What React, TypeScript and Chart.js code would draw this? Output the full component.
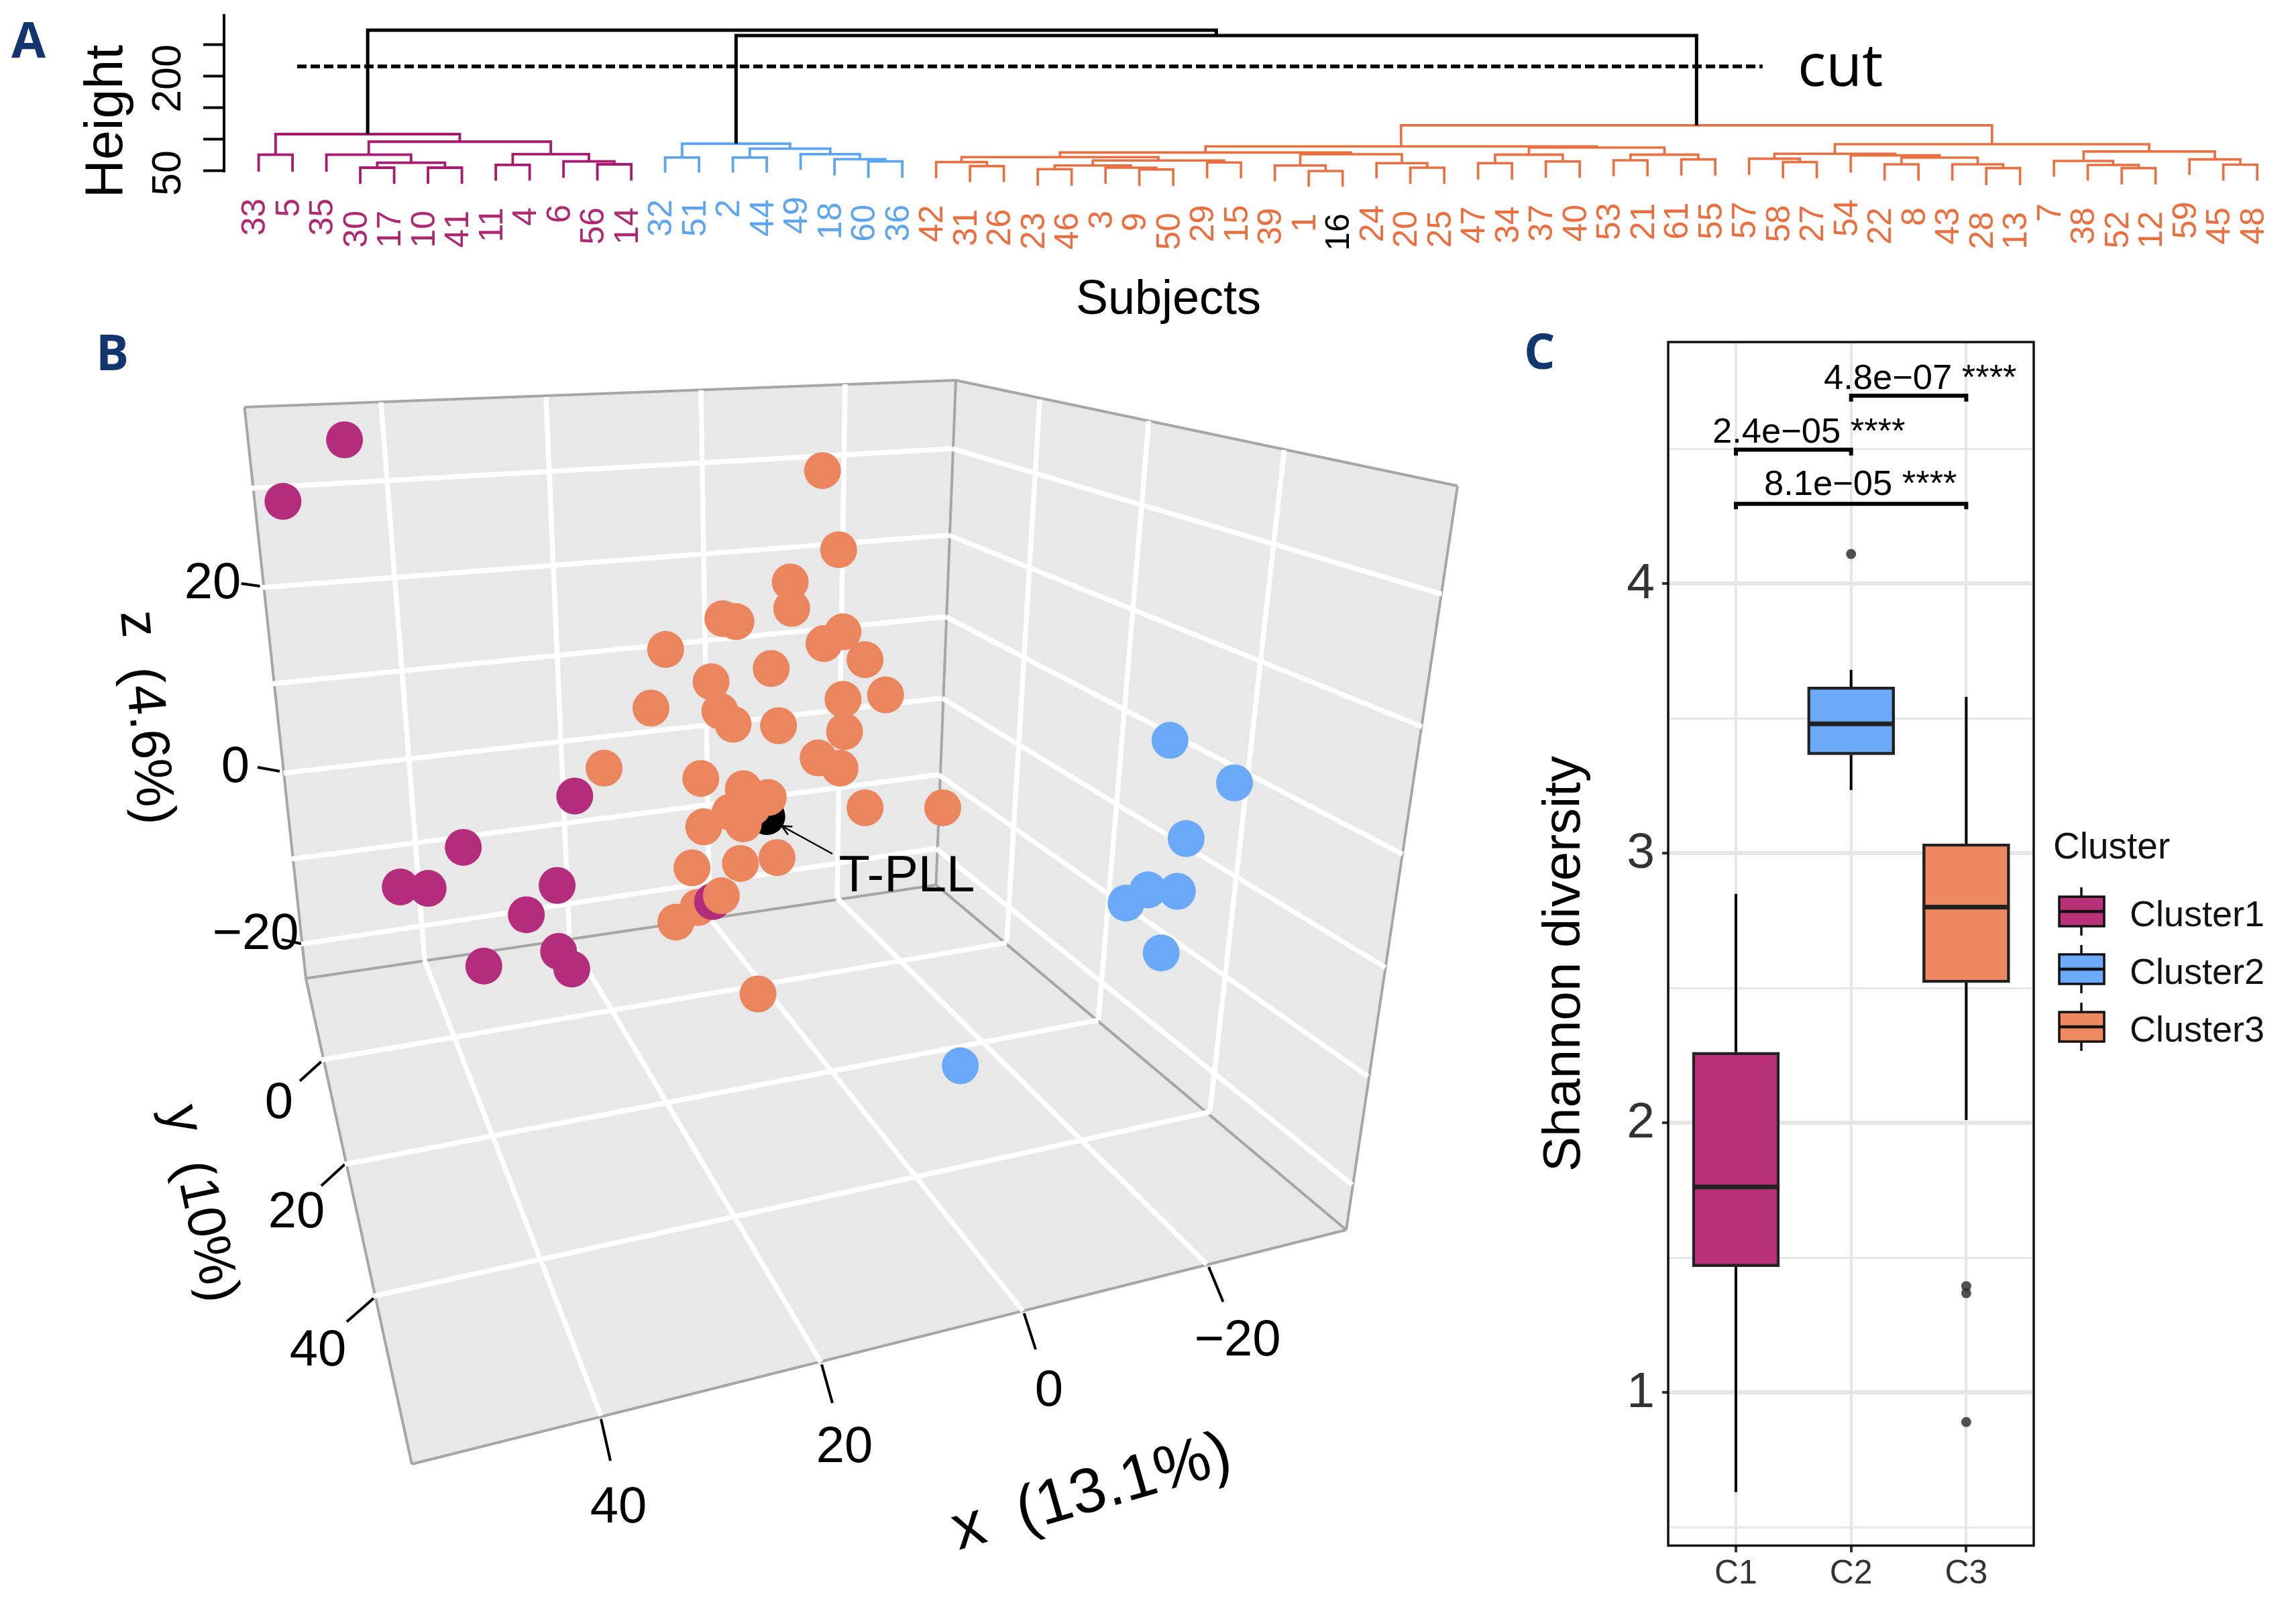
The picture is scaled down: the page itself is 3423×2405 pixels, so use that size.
import { useEffect, useRef } from 'react';
import { Chart, registerables } from 'chart.js';

Chart.register(...registerables);

const PAGE_W = 3423;
const PAGE_H = 2405;
const SANS = '"Liberation Sans", Arial, sans-serif';
const PURPLE = '#B32D7C';
const BLUE = '#6AA8F8';
const ORANGE = '#EB855D';
const PURPLE_LINE = '#A8196F';
const BLUE_LINE = '#5EA5F0';
const ORANGE_LINE = '#E96F40';
const NAVY = '#14366E';

/* ---------- Panel A: dendrogram values ---------- */
const leafLabels = ['33','5','35','30','17','10','41','11','4','6','56','14','32','51','2','44','49','18','60','36','42','31','26','23','46','3','9','50','29','15','39','1','16','24','20','25','47','34','37','40','53','21','61','55','57','58','27','54','22','8','43','28','13','7','38','52','12','59','45','48'];
const leafEnds = [49,49,49,29.8,29.8,29.8,29.8,34.8,34.8,39.4,34.8,34.8,47.5,47.5,47.5,47.5,51.8,42.9,39.4,39.4,38.6,32.3,32.3,26.9,26.9,29.8,26.3,26.3,38.6,38.6,34,25.2,25.2,38.6,29.8,29.8,36.5,36.5,39.4,39.4,41.8,41.8,42.9,42.9,43.9,38.6,38.6,47.5,34.8,34.8,34.8,27.6,27.6,41.2,34.8,28.7,28.7,43.9,34.8,34.8];
type Merge = [string, number | string, number | string, number];
const purpleMerges: Merge[] = [['p1',0,1,75.9],['p2',3,4,55.3],['p3',5,6,55.3],['p4','p2','p3',63.1],['p5',2,'p4',75.9],['p6',7,8,59.6],['p7',10,11,60.6],['p8',9,'p7',65.2],['p9','p6','p8',76.6],['p10','p5','p9',96.5],['p11','p1','p10',108.5]];
const blueMerges: Merge[] = [['b1',12,13,71.3],['b2',14,15,71.3],['b3',18,19,65.2],['b4',17,'b3',68.8],['b5',16,'b4',76.6],['b6','b2','b5',85.4],['b7','b1','b6',93.3]];
const orangeMerges: Merge[] = [['o1',21,22,57.8],['o2',20,'o1',64.2],['o3',23,24,52.9],['o4',26,27,52.5],['o5',25,'o4',55.3],['o6','o3','o5',58.8],['o7',28,29,63.5],['o8','o6','o7',66.7],['o9','o2','o8',72],['o10',31,32,50],['o11',30,'o10',58.8],['o12',34,35,55.3],['o13',33,'o12',62.4],['o14','o11','o13',76.6],['o15','o9','o14',79.4],['o16',36,37,62.4],['o17',38,39,65.2],['o18','o16','o17',75.9],['o19',40,41,67],['o20',42,43,68.4],['o21','o19','o20',75.9],['o22','o18','o21',87.2],['o23','o15','o22',89],['o24',45,46,64.2],['o25',44,'o24',69.5],['o26',48,49,60.6],['o27',51,52,54.6],['o28',50,'o27',60.6],['o29','o26','o28',71.3],['o30',47,'o29',74.8],['o31','o25','o30',77.3],['o32',55,56,54.6],['o33',54,'o32',59.6],['o34',53,'o33',66],['o35',58,59,60],['o36',57,'o35',68.4],['o37','o34','o36',80.9],['o38','o31','o37',92.6],['o39','o23','o38',122.4]];
const blackMerges: Merge[] = [['k1','b7','o39',264.9],['k2','p11','k1',273.4]];
const heightTicks = [50, 100, 150, 200, 250];
const heightTickLabels = [50, 200];
const cutHeight = 216;
const cutSpan = [1.137, 44.4];

/* ---------- Panel B: PCA points, read in the projected view plane ---------- */
const viewScale = PAGE_W / 1566;
const cluster1Points = [[235,300],[193,342],[392,543],[316,578],[273,605],[292,606],[380,604],[359,624],[330,659],[381,649],[390,661],[486,615]];
const cluster2Points = [[798,505],[842,534],[809,572],[783,607],[803,608],[768,616],[792,650],[655,727]];
const cluster3Points = [[561,321],[572,375],[539,397],[540,415],[575,431],[562,439],[590,450],[526,456],[604,474],[575,477],[531,495],[576,499],[558,517],[573,524],[590,551],[643,551],[524,544],[530,585],[493,422],[502,424],[454,443],[485,465],[444,483],[491,485],[500,494],[412,524],[478,531],[507,538],[513,551],[498,554],[480,564],[507,562],[505,589],[472,592],[492,611],[517,678]];
const cluster3BackPoints = [[476,619],[461,629]];
const tpllPoint = [[523,557]];

/* box walls, grid and ticks in the same plane, at full scale */
const backWall = [[364.5,607],[1425,567],[1395.5,1319.4],[456,1458.7]];
const rightWall = [[1425,567],[2173,724.5],[2007,1833.7],[1395.5,1319.4]];
const floorWall = [[456,1458.7],[1395.5,1319.4],[2007,1833.7],[614,2183]];
const boxGrid = [
  [568,600,633,1432],[814,592,849,1400],[1045,582,1058,1369],[1260,573,1248,1339],
  [373.6,728,1420,669],[391,876,1415,798],[406.6,1019.5,1410,919.6],[422.7,1152.7,1404.6,1041],[435,1280.7,1399,1155],[449,1407.6,1395.5,1265],
  [1420,669,2149.6,885.8],[1415,798,2120,1083.5],[1410,919.6,2091,1273.6],[1404.6,1041,2065.5,1442.6],[1399,1155,2039.5,1605],[1395.5,1265,2016,1766.7],
  [1550,595.7,1500.8,1405.6],[1712.6,627.6,1637.5,1521],[1914.6,671,1803.8,1658],
  [478.8,1580.5,1500.8,1405.6],[513.9,1736,1637.5,1521],[557.4,1932.5,1803.8,1658],
  [633,1432,896,2111],[849,1400,1223.7,2031],[1058,1369,1525,1955],[1248,1339,1799,1885],
];
const boxEdges = [
  [364.5,607,1425,567],[1425,567,2173,724.5],[2173,724.5,2007,1833.7],[2007,1833.7,614,2183],
  [614,2183,456,1458.7],[456,1458.7,364.5,607],[456,1458.7,1395.5,1319.4],[1395.5,1319.4,1425,567],[1395.5,1319.4,2007,1833.7],
];
const boxTicks = [
  [896,2115.6,910,2178],[1225,2034.5,1241,2092],[1526.7,1958,1544,2012],[1802,1889,1823.5,1941],
  [478.8,1583,447,1611.7],[514,1736,479,1768],[557,1935.7,517,1970.8],
  [387.6,874,359.6,870],[417,1150,384,1144],[449,1407,420,1401],
];
const arrowPath = [[1241,1273],[1165.4,1231.5],[1174.9,1244.4],[1165.4,1231.5],[1181.4,1232.5]];

/* ---------- Panel C: box plot values ---------- */
const clusterPositions = [1, 2, 3];
const clusterTickLabels = ['C1', 'C2', 'C3'];
const boxQ1 = [1.466, 3.365, 2.52];
const boxMedian = [1.762, 3.48, 2.8];
const boxQ3 = [2.262, 3.617, 3.035];
const whiskerLow = [0.63, 3.234, 2.01];
const whiskerHigh = [2.849, 3.68, 3.58];
const outliers = [[2,4.11],[3,1.394],[3,1.368],[3,0.89]];
const diversityTicks = [0.5, 1, 1.5, 2, 2.5, 3, 3.5, 4, 4.5];
const brackets = [[2,3,4.697,4.675],[1,2,4.497,4.475],[1,3,4.296,4.276]];
const legendNames = ['Cluster1', 'Cluster2', 'Cluster3'];
const boxColors = ['#B93279', '#6BAAF9', '#ED8860'];

type Label = { t: string; x: number; y: number; font: string; color?: string; rot?: number; align?: CanvasTextAlign; base?: CanvasTextBaseline };
const drawLabels = (c: CanvasRenderingContext2D, labels: Label[]) => {
  labels.forEach((l) => {
    c.save();
    c.translate(l.x, l.y);
    c.rotate(((l.rot || 0) * Math.PI) / 180);
    c.font = l.font;
    c.fillStyle = l.color || '#000';
    c.textAlign = l.align || 'center';
    c.textBaseline = l.base || 'alphabetic';
    c.fillText(l.t, 0, 0);
    c.restore();
  });
};
const textPlugin = (labels: Label[]) => ({
  id: 'texts',
  afterDatasetsDraw(chart: any) {
    drawLabels(chart.ctx, labels);
  },
});
const GAP = { x: null as any, y: null as any };
const segs = (list: number[][]) => list.flatMap(([a, b, c, d]) => [{ x: a, y: b }, { x: c, y: d }, GAP]);
const pts = (list: number[][]) => list.map(([x, y]) => ({ x, y }));
const viewPts = (list: number[][]) => list.map(([x, y]) => ({ x: x * viewScale, y: y * viewScale }));
const basePlugins = { legend: { display: false }, tooltip: { enabled: false } };

function dendroData() {
  const nodes: Record<string, { x: number; h: number }> = {};
  const at = (ref: number | string) => (typeof ref === 'number' ? { x: ref, h: leafEnds[ref] } : nodes[ref]);
  const build = (merges: Merge[]) => {
    const out: any[] = [];
    merges.forEach(([name, a, b, h]) => {
      const l = at(a);
      const r = at(b);
      out.push({ x: l.x, y: l.h }, { x: l.x, y: h }, { x: r.x, y: h }, { x: r.x, y: r.h }, GAP);
      nodes[name] = { x: (l.x + r.x) / 2, h };
    });
    return out;
  };
  return {
    purple: build(purpleMerges),
    blue: build(blueMerges),
    orange: build(orangeMerges),
    black: build(blackMerges),
  };
}

function makeDendrogram(canvas: HTMLCanvasElement) {
  const d = dendroData();
  const line = (data: any[], color: string, width: number) => ({ data, borderColor: color, borderWidth: width, pointRadius: 0, showLine: true, clip: false as any, borderJoinStyle: 'miter' as const });
  const leafColor = (i: number) => (leafLabels[i] === '16' ? '#000' : i < 12 ? '#AE2873' : i < 20 ? BLUE_LINE : ORANGE_LINE);
  const leafPlugin = {
    id: 'leaves',
    afterDatasetsDraw(chart: any) {
      const { x, y } = chart.scales;
      drawLabels(
        chart.ctx,
        leafLabels.map((t, i) => ({
          t,
          x: x.getPixelForValue(i) - 4,
          y: y.getPixelForValue(leafEnds[i]) + 40,
          rot: -90,
          font: `50px ${SANS}`,
          color: leafColor(i),
          align: 'right' as const,
          base: 'middle' as const,
        })),
      );
    },
  };
  return new Chart(canvas, {
    type: 'scatter',
    data: {
      datasets: [
        { ...line([{ x: cutSpan[0], y: cutHeight }, { x: cutSpan[1], y: cutHeight }], '#000', 5.5), borderDash: [14, 6] },
        line(d.black, '#000', 5),
        line(d.purple, PURPLE_LINE, 3.8),
        line(d.blue, BLUE_LINE, 3.8),
        line(d.orange, ORANGE_LINE, 3.6),
      ],
    },
    options: {
      animation: false,
      responsive: false,
      devicePixelRatio: 1,
      events: [],
      layout: { autoPadding: false, padding: { left: 0, top: 23, right: 23, bottom: PAGE_H - 256 } },
      plugins: basePlugins,
      scales: {
        x: { type: 'linear', display: false, min: -1.022, max: 59.69 },
        y: {
          type: 'linear',
          min: 48.9,
          max: 296.8,
          afterFit: (s: any) => { s.width = 334; s.paddingTop = 0; s.paddingBottom = 0; },
          afterBuildTicks: (s: any) => { s.ticks = heightTicks.map((value) => ({ value })); },
          border: { display: true, color: '#000', width: 4 },
          grid: { drawOnChartArea: false, drawTicks: true, tickLength: 31, tickColor: '#000', tickWidth: 4 },
          ticks: {
            autoSkip: false,
            minRotation: 90,
            maxRotation: 90,
            crossAlign: 'center',
            padding: 0,
            labelOffset: 3,
            color: '#000',
            font: { family: SANS, size: 61 },
            callback: (v: any) => (heightTickLabels.includes(v) ? String(v) : ''),
          },
        },
      },
    } as any,
    plugins: [
      leafPlugin,
      textPlugin([
        { t: 'A', x: 17, y: 86, font: `bold 74px "Open Sans"`, color: NAVY, align: 'left' },
        { t: 'Height', x: 182, y: 181, rot: -90, font: `79px ${SANS}` },
        { t: 'Subjects', x: 1742, y: 468, font: `72px ${SANS}` },
        { t: 'cut', x: 2680, y: 128, font: `88px "Open Sans"`, align: 'left' },
      ]),
    ],
  });
}

function makeBox3D(canvas: HTMLCanvasElement) {
  const wall = (poly: number[][]) => ({ data: pts(poly), showLine: true, fill: 'shape', backgroundColor: '#E8E8E8', borderWidth: 0, pointRadius: 0, order: 9 });
  const strokes = (data: any[], color: string, width: number, order: number) => ({ data, showLine: true, borderColor: color, borderWidth: width, pointRadius: 0, order });
  const dots = (data: any[], color: string, order: number) => ({ data, showLine: false, backgroundColor: color, borderWidth: 0, pointRadius: 27.5, order });
  const font = `76px ${SANS}`;
  const titleFont = `80px ${SANS}`;
  return new Chart(canvas, {
    type: 'scatter',
    data: {
      datasets: [
        wall(backWall),
        wall(rightWall),
        wall(floorWall),
        strokes(segs(boxEdges), '#A6A6A6', 4, 6),
        strokes(segs(boxGrid), '#FFFFFF', 7.5, 5),
        strokes(segs(boxTicks), '#000', 4, 5),
        dots(viewPts(tpllPoint), '#000', 4),
        dots(viewPts(cluster3BackPoints), ORANGE, 3.5),
        dots(viewPts(cluster1Points), PURPLE, 3),
        dots(viewPts(cluster2Points), BLUE, 2),
        dots(viewPts(cluster3Points), ORANGE, 2),
        strokes(pts(arrowPath), '#000', 2.5, 1),
      ],
    },
    options: {
      animation: false,
      responsive: false,
      devicePixelRatio: 1,
      events: [],
      layout: { autoPadding: false },
      plugins: basePlugins,
      scales: {
        x: { type: 'linear', display: false, min: 0, max: PAGE_W },
        y: { type: 'linear', display: false, min: 0, max: PAGE_H, reverse: true },
      },
    } as any,
    plugins: [
      textPlugin([
        { t: 'B', x: 143, y: 552, font: `bold 73px "Open Sans"`, color: NAVY, align: 'left' },
        { t: '20', x: 317, y: 871, font, base: 'middle' },
        { t: '0', x: 351, y: 1145, font, base: 'middle' },
        { t: '\u221220', x: 381, y: 1394, font, base: 'middle' },
        { t: '0', x: 416, y: 1646, font, base: 'middle' },
        { t: '20', x: 442, y: 1809, font, base: 'middle' },
        { t: '40', x: 474, y: 2015, font, base: 'middle' },
        { t: '40', x: 922, y: 2249, font, base: 'middle' },
        { t: '20', x: 1259, y: 2159, font, base: 'middle' },
        { t: '0', x: 1564, y: 2075, font, base: 'middle' },
        { t: '\u221220', x: 1845, y: 2000, font, base: 'middle' },
        { t: 'z  (4.6%)', x: 216, y: 1070, rot: 85, font: titleFont, base: 'middle' },
        { t: 'y  (10%)', x: 297, y: 1795, rot: 78, font: titleFont, base: 'middle' },
        { t: 'x  (13.1%)', x: 1628, y: 2227, rot: -16, font: `94px ${SANS}`, base: 'middle' },
        { t: 'T-PLL', x: 1352, y: 1329, font },
      ]),
    ],
  });
}

function makeBoxPlot(canvas: HTMLCanvasElement) {
  const whiskers = clusterPositions.flatMap((x, i) => [{ x, y: whiskerLow[i] }, { x, y: boxQ1[i] }, GAP, { x, y: boxQ3[i] }, { x, y: whiskerHigh[i] }, GAP]);
  const medians = clusterPositions.flatMap((x, i) => [{ x: x - 0.375, y: boxMedian[i] }, { x: x + 0.375, y: boxMedian[i] }, GAP]);
  const bracketLines = brackets.flatMap(([a, b, top, tip]) => [{ x: a, y: tip }, { x: a, y: top }, { x: b, y: top }, { x: b, y: tip }, GAP]);
  const isInt = (ctx: any) => Number.isInteger(ctx.tick.value);
  const borderPlugin = {
    id: 'panelBorder',
    afterDatasetsDraw(chart: any) {
      const { ctx, chartArea: a } = chart;
      ctx.save();
      ctx.strokeStyle = '#111';
      ctx.lineWidth = 3.5;
      ctx.strokeRect(a.left, a.top, a.right - a.left, a.bottom - a.top);
      ctx.restore();
    },
  };
  const legendPlugin = {
    id: 'boxLegend',
    afterDatasetsDraw(chart: any) {
      const c = chart.ctx;
      legendNames.forEach((name, i) => {
        const mid = 1359 + i * 86;
        c.save();
        c.strokeStyle = '#111';
        c.lineWidth = 3.5;
        c.beginPath();
        c.moveTo(3103, mid - 36);
        c.lineTo(3103, mid + 36);
        c.stroke();
        c.fillStyle = boxColors[i];
        c.fillRect(3070, mid - 22, 67, 44);
        c.strokeRect(3070, mid - 22, 67, 44);
        c.lineWidth = 4.5;
        c.beginPath();
        c.moveTo(3070, mid);
        c.lineTo(3137, mid);
        c.stroke();
        c.restore();
        drawLabels(c, [{ t: name, x: 3175, y: mid + 22, font: `54px ${SANS}`, align: 'left', color: '#111' }]);
      });
    },
  };
  return new Chart(canvas, {
    type: 'bar',
    data: {
      datasets: [
        { type: 'line', data: medians, borderColor: '#222', borderWidth: 7, pointRadius: 0, order: 1 },
        { type: 'line', data: bracketLines, borderColor: '#000', borderWidth: 6, pointRadius: 0, order: 1, borderJoinStyle: 'miter' },
        { type: 'line', data: pts(outliers), showLine: false, pointRadius: 7.5, pointBackgroundColor: 'rgba(50,50,50,0.85)', pointBorderWidth: 0, order: 1 },
        { type: 'bar', data: clusterPositions.map((x, i) => ({ x, y: [boxQ1[i], boxQ3[i]] })), backgroundColor: boxColors, borderColor: '#222', borderWidth: 4.5, borderSkipped: false, barThickness: 130, order: 2 },
        { type: 'line', data: whiskers, borderColor: '#000', borderWidth: 4, pointRadius: 0, order: 3 },
      ],
    },
    options: {
      animation: false,
      responsive: false,
      devicePixelRatio: 1,
      events: [],
      layout: { autoPadding: false, padding: { left: 2387, top: 510, right: PAGE_W - 3032, bottom: 0.5 } },
      plugins: basePlugins,
      scales: {
        x: {
          type: 'linear',
          offset: false,
          min: 0.412,
          max: 3.586,
          afterFit: (s: any) => { s.height = 100; s.paddingLeft = 0; s.paddingRight = 0; },
          afterBuildTicks: (s: any) => { s.ticks = clusterPositions.map((value) => ({ value })); },
          border: { display: false },
          grid: { offset: false, color: '#E6E6E6', lineWidth: 4, tickColor: '#333', tickWidth: 4, tickLength: 10 },
          ticks: { autoSkip: false, maxRotation: 0, padding: 3, color: '#333', font: { family: SANS, size: 50 }, callback: (v: any) => clusterTickLabels[v - 1] },
        },
        y: {
          type: 'linear',
          min: 0.4316,
          max: 4.896,
          afterFit: (s: any) => { s.width = 100; s.paddingTop = 0; s.paddingBottom = 0; },
          afterBuildTicks: (s: any) => { s.ticks = diversityTicks.map((value) => ({ value })); },
          border: { display: false },
          grid: {
            color: '#E6E6E6',
            lineWidth: (ctx: any) => (isInt(ctx) ? 6 : 3),
            tickColor: (ctx: any) => (isInt(ctx) ? '#333' : 'rgba(0,0,0,0)'),
            tickWidth: 4,
            tickLength: 9,
          },
          ticks: {
            autoSkip: false,
            padding: 11,
            labelOffset: 1,
            color: '#333',
            font: { family: SANS, size: 75 },
            callback: (v: any) => (Number.isInteger(v) ? String(v) : ''),
          },
        },
      },
    } as any,
    plugins: [
      borderPlugin,
      legendPlugin,
      textPlugin([
        { t: 'C', x: 2272, y: 550, font: `bold 73px "Open Sans"`, color: NAVY, align: 'left' },
        { t: 'Shannon diversity', x: 2355, y: 1437, rot: -90, font: `78px ${SANS}` },
        { t: '4.8e\u221207 ****', x: 2719, y: 580, font: `52.5px ${SANS}`, align: 'left' },
        { t: '2.4e\u221205 ****', x: 2553, y: 660, font: `52.5px ${SANS}`, align: 'left' },
        { t: '8.1e\u221205 ****', x: 2630, y: 738, font: `52.5px ${SANS}`, align: 'left' },
        { t: 'Cluster', x: 3061, y: 1280, font: `55px ${SANS}`, align: 'left', color: '#111' },
      ]),
    ],
  });
}

export default function App() {
  const a = useRef<HTMLCanvasElement>(null);
  const b = useRef<HTMLCanvasElement>(null);
  const c = useRef<HTMLCanvasElement>(null);
  useEffect(() => {
    const charts = [makeBox3D(b.current!), makeDendrogram(a.current!), makeBoxPlot(c.current!)];
    return () => charts.forEach((ch) => ch.destroy());
  }, []);
  const style: any = { position: 'absolute', left: 0, top: 0, display: 'block', width: PAGE_W, height: PAGE_H };
  return (
    <div style={{ position: 'absolute', left: 0, top: 0, width: PAGE_W, height: PAGE_H, background: '#fff', overflow: 'hidden' }}>
      <canvas ref={b} width={PAGE_W} height={PAGE_H} style={style} />
      <canvas ref={a} width={PAGE_W} height={PAGE_H} style={style} />
      <canvas ref={c} width={PAGE_W} height={PAGE_H} style={style} />
    </div>
  );
}
